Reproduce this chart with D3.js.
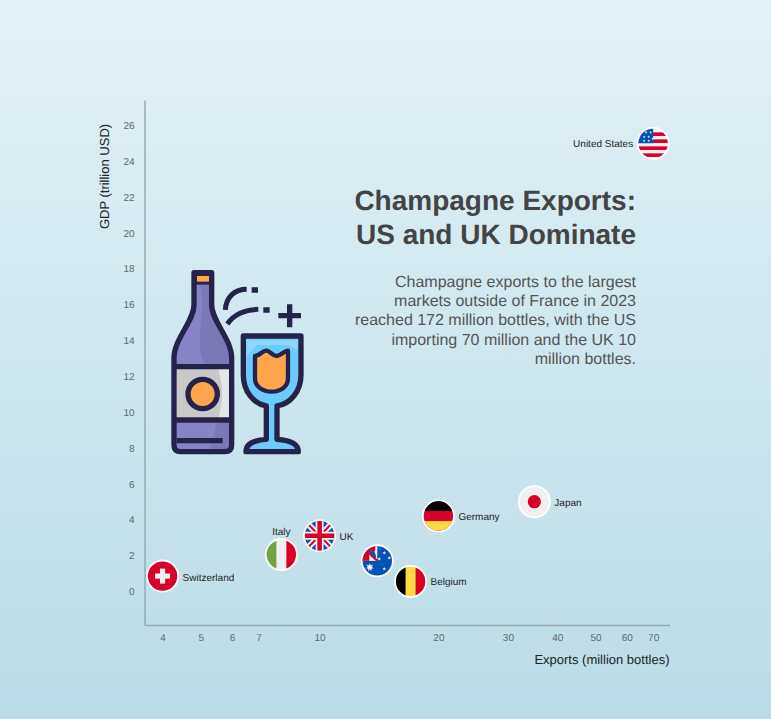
<!DOCTYPE html>
<html><head><meta charset="utf-8">
<script src="https://cdn.jsdelivr.net/npm/d3@7"></script>
<style>html,body{margin:0;padding:0;background:#bfdfe9}svg{display:block}text{font-family:"Liberation Sans",Arial,sans-serif;text-rendering:geometricPrecision}</style>
</head><body><svg id="c" width="771" height="719"></svg>
<script>
const countries=["Switzerland","Italy","UK","Australia","Belgium","Germany","Japan","United States"];
const exportsM=[4,8,10,14,17,20,35,70];
const gdp=[0.85,2.05,3.1,1.7,0.55,4.2,5,25];
const labelPos=["right","top","right","none","right","right","right","left"];
const flagKeys=["ch","it","uk","au","be","de","jp","us"];
const xTicks=[4,5,6,7,10,20,30,40,50,60,70];
const yTicks=d3.range(0,27,2);
const titleLines=["Champagne Exports:","US and UK Dominate"];
const bodyLines=["Champagne exports to the largest","markets outside of France in 2023","reached 172 million bottles, with the US","importing 70 million and the UK 10","million bottles."];

const svg=d3.select("#c"),W=771,H=719;
const defs=svg.append("defs");
const g=defs.append("linearGradient").attr("id","bg").attr("x1",0).attr("x2",0).attr("y1",0).attr("y2",1);
g.append("stop").attr("offset",0).attr("stop-color","#e3f1f6");
g.append("stop").attr("offset",1).attr("stop-color","#bbdce7");
svg.append("rect").attr("width",W).attr("height",H).attr("fill","url(#bg)");

const x=d3.scaleLog().domain([3.6,77]).range([144.5,669.5]);
const y=d3.scaleLinear().domain([-1.88,27.42]).range([625,100]);

const xAxis=d3.axisBottom(x).tickValues(xTicks).tickFormat(d3.format("d")).tickSize(0).tickPadding(8.5);
const yAxis=d3.axisLeft(y).tickValues(yTicks).tickSize(0).tickPadding(10);
const gx=svg.append("g").attr("transform","translate(0,625)").call(xAxis);
const gy=svg.append("g").attr("transform","translate(144.5,0)").call(yAxis);
[gx,gy].forEach(a=>{a.select(".domain").attr("stroke","#9aa9b0").attr("stroke-width",1.5);
 a.selectAll("text").attr("font-size",10).attr("fill","#666").attr("font-family","Liberation Sans");});
svg.append("text").attr("x",669.5).attr("y",664).attr("text-anchor","end").attr("font-size",13).attr("fill","#222").text("Exports (million bottles)");
svg.append("text").attr("transform","translate(109,176.5) rotate(-90)").attr("text-anchor","middle").attr("font-size",13).attr("fill","#222").text("GDP (trillion USD)");

svg.append("g").selectAll("text").data(titleLines).join("text").attr("x",636).attr("y",(d,i)=>209.5+i*34)
 .attr("text-anchor","end").attr("font-size",28).attr("font-weight","bold").attr("fill","#444").text(d=>d);
svg.append("g").selectAll("text").data(bodyLines).join("text").attr("x",636).attr("y",(d,i)=>287+i*19.2)
 .attr("text-anchor","end").attr("font-size",16).attr("fill","#555").text(d=>d);

/* icon, drawn in zoomed coordinates */
const ink="#26234a";
const ic=svg.append("g").attr("transform","translate(150,250) scale(0.3333)")
 .attr("stroke-linejoin","round").attr("stroke-linecap","butt");
const bottle="M132,68H185V165C185,215 245,265 245,325V585Q245,605 225,605H92Q72,605 72,585V325C72,265 132,215 132,165Z";
ic.append("path").attr("d",bottle).attr("fill","#8683c6");
ic.append("path").attr("d","M150,105H185V165C185,215 245,265 245,325V350H175C120,300 175,200 150,105Z").attr("fill","#7b78b8");
ic.append("path").attr("d","M200,515H245V585Q245,605 225,605H180Z").attr("fill","#7b78b8");
ic.append("rect").attr("x",72).attr("y",355).attr("width",173).attr("height",155).attr("fill","#c9c9c9");
ic.append("path").attr("d","M205,358H240V505H205C220,450 220,410 205,358Z").attr("fill","#e6e6e6");
ic.append("rect").attr("x",132).attr("y",68).attr("width",53).attr("height",36).attr("fill",ink);
ic.append("rect").attr("x",141).attr("y",78).attr("width",36).attr("height",17).attr("fill","#ffa64d");
ic.append("path").attr("d",bottle).attr("fill","none").attr("stroke",ink).attr("stroke-width",16);
ic.append("path").attr("d","M72,350H245M72,510H245M80,572H218").attr("fill","none").attr("stroke",ink).attr("stroke-width",16);
ic.append("circle").attr("cx",158).attr("cy",432).attr("r",44).attr("fill","#ffa64d").attr("stroke",ink).attr("stroke-width",16);
const glass="M280,258H453V375C453,425 420,462 381,468V568C415,570 445,578 445,605H288C288,578 318,570 349,568V468C312,462 280,425 280,375Z";
ic.append("path").attr("d",glass).attr("fill","#6ccbfb").attr("stroke",ink).attr("stroke-width",16);
ic.append("path").attr("d","M290,270H443V300L415,285H320L290,320Z").attr("fill","#8fd8fc");
ic.append("path").attr("d","M315,318C330,318 338,300 350,302C362,304 366,318 380,318C392,318 400,303 414,302V385C414,410 392,425 365,425C338,425 315,410 315,385Z")
 .attr("fill","#ffa64d").attr("stroke",ink).attr("stroke-width",13);
ic.append("path").attr("d","M226,180C228,140 255,118 290,118M232,222C250,195 285,178 325,178")
 .attr("fill","none").attr("stroke",ink).attr("stroke-width",15);
ic.append("path").attr("d","M305,120H324M340,180H359M385,197H453M419,163V232").attr("fill","none").attr("stroke",ink).attr("stroke-width",16);

/* flags */
const R=14.7;
defs.append("clipPath").attr("id","fc").append("circle").attr("r",R);
function star(s,cx,cy,r,n,fill){
 const pts=d3.range(n*2).map(i=>{const a=i*Math.PI/n-Math.PI/2,q=i%2?r*.45:r;return [cx+q*Math.cos(a),cy+q*Math.sin(a)];});
 s.append("polygon").attr("points",pts.join(" ")).attr("fill",fill);
}
function rect(s,a,b,w,h,f){s.append("rect").attr("x",a).attr("y",b).attr("width",w).attr("height",h).attr("fill",f);}
function ukJack(s){
 const t=s.append("g"),L=16;
 t.append("path").attr("d",`M${-L},${-L}L${L},${L}M${-L},${L}L${L},${-L}`).attr("stroke","#f0f0f0").attr("stroke-width",6);
 t.append("path").attr("d",`M${-L},${-L}L${L},${L}M${-L},${L}L${L},${-L}`).attr("stroke","#d80027").attr("stroke-width",2);
 t.append("path").attr("d",`M0,${-L}V${L}M${-L},0H${L}`).attr("stroke","#f0f0f0").attr("stroke-width",8);
 t.append("path").attr("d",`M0,${-L}V${L}M${-L},0H${L}`).attr("stroke","#d80027").attr("stroke-width",4.5);
}
const red="#d80027",yel="#ffda44",blu="#0052b4",wht="#f0f0f0";
const draw={
 ch(s){rect(s,-16,-16,32,32,red);rect(s,-2.6,-7.5,5.2,15,wht);rect(s,-7.5,-2.6,15,5.2,wht);},
 it(s){rect(s,-16,-16,32,32,wht);rect(s,-16,-16,11,32,"#6da544");rect(s,5,-16,11,32,red);},
 uk(s){rect(s,-16,-16,32,32,blu);ukJack(s);},
 au(s){rect(s,-16,-16,32,32,blu);rect(s,-16,-16,16,16,wht);
  rect(s,-16,-16,8,16,red);rect(s,-16,-16,14,6,red);
  s.append("path").attr("d","M-9,-10L-3,-10L-1,-4L-3,-1Z").attr("fill",blu);
  s.append("path").attr("d","M-10,-9L0,0").attr("stroke",red).attr("stroke-width",2);
  star(s,-7.5,6.5,4.4,7,wht);[[7,-8],[2,-2],[12,-3],[7,8]].forEach(p=>star(s,p[0],p[1],1.9,5,wht));},
 be(s){rect(s,-16,-16,32,32,yel);rect(s,-16,-16,11,32,"#000");rect(s,5,-16,11,32,red);},
 de(s){rect(s,-16,-16,32,32,red);rect(s,-16,-16,32,11,"#000");rect(s,-16,5,32,11,yel);},
 jp(s){rect(s,-16,-16,32,32,wht);s.append("circle").attr("r",6.6).attr("fill",red);},
 us(s){rect(s,-16,-16,32,32,wht);[-11,-4,3,10].forEach(b=>rect(s,-16,b,32,3.6,red));
  s.append("path").attr("d","M-16,-16H0V0H-16Z").attr("fill",blu);
  [[-7,-11],[-2.5,-11],[-9,-6.5],[-4.5,-6.5],[-9,-2.5],[-4.5,-2.5],[-0.5,-4.5]].forEach(p=>star(s,p[0],p[1],1.4,5,wht));}
};
const pts=svg.append("g").selectAll("g").data(countries).join("g")
 .attr("transform",(d,i)=>`translate(${x(exportsM[i])},${y(gdp[i])})`);
pts.append("circle").attr("r",16.5).attr("fill","#fff");
pts.each(function(d,i){const s=d3.select(this).append("g").attr("clip-path","url(#fc)");draw[flagKeys[i]](s);});
pts.filter((d,i)=>labelPos[i]!=="none").append("text").attr("font-size",10).attr("fill","#222")
 .each(function(d){const i=countries.indexOf(d),p=labelPos[i],t=d3.select(this);
  if(p==="right")t.attr("x",20).attr("y",d==="Switzerland"?5:4).attr("text-anchor","start");
  if(p==="left")t.attr("x",-20).attr("y",3.5).attr("text-anchor","end");
  if(p==="top")t.attr("x",0).attr("y",-20).attr("text-anchor","middle");
  t.text(d);});
</script></body></html>
